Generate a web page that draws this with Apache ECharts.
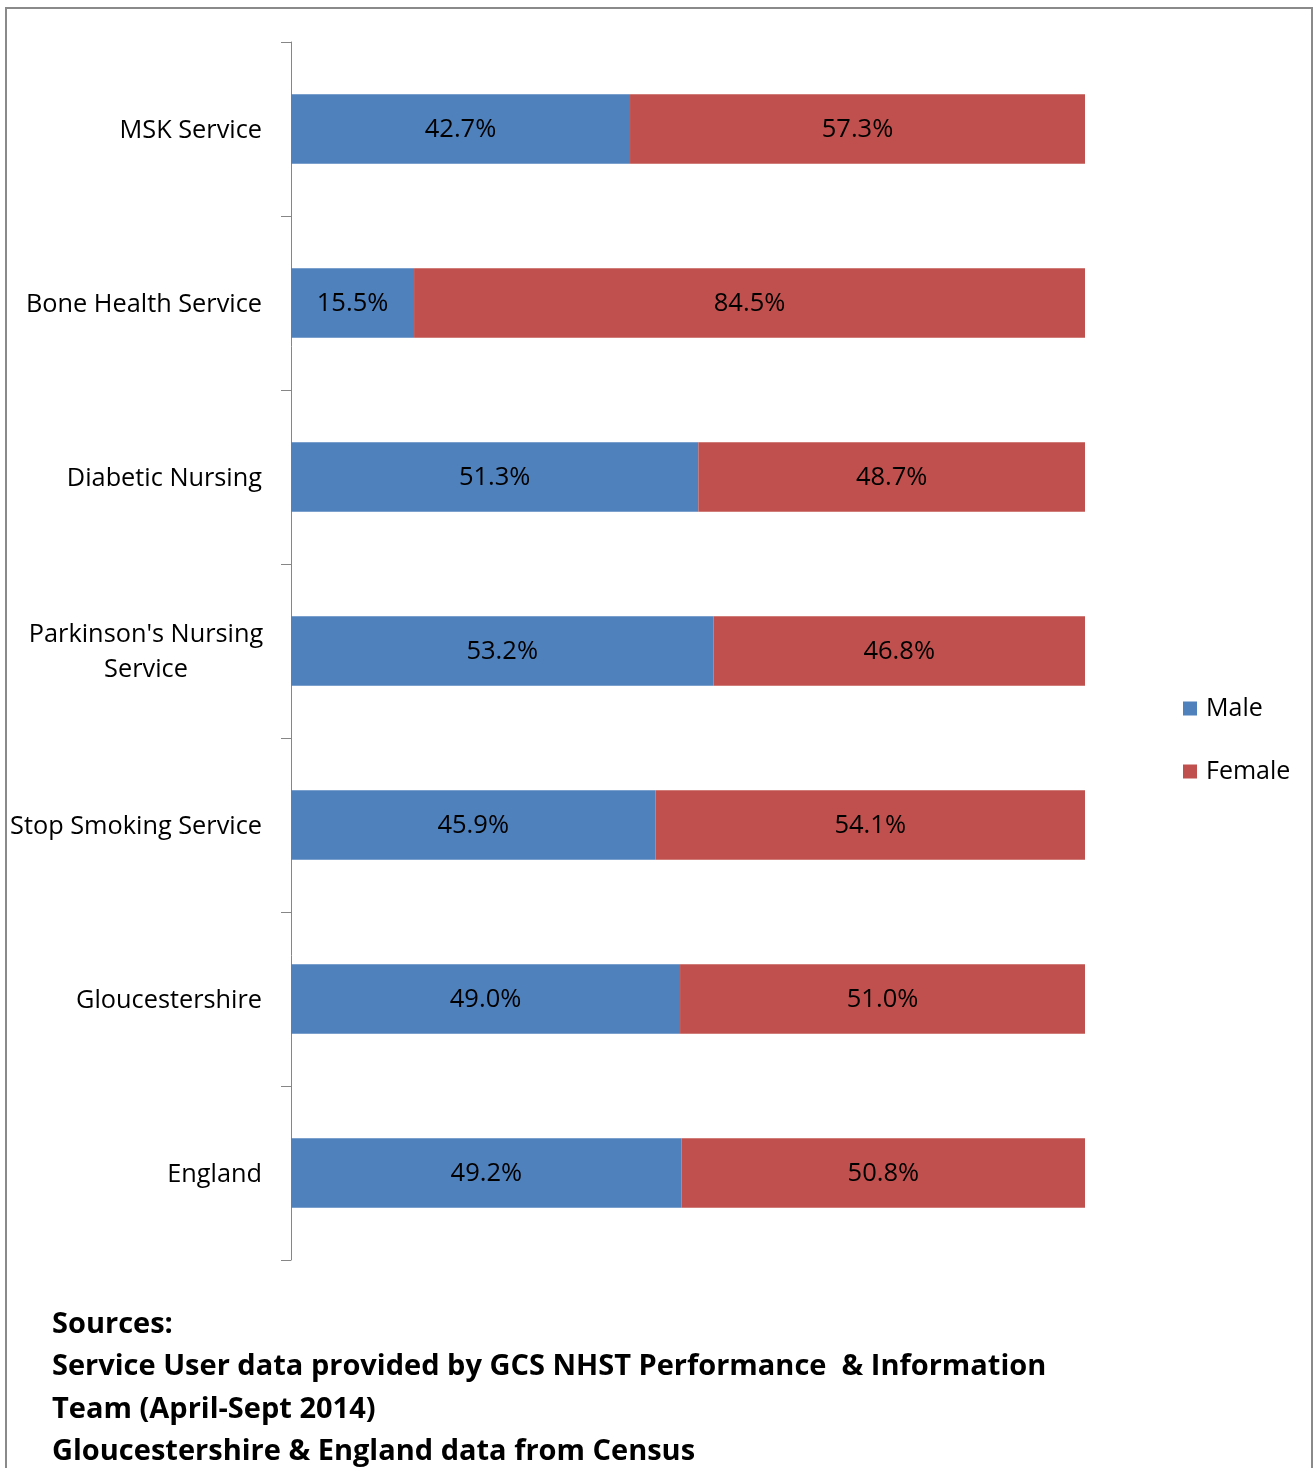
<!DOCTYPE html>
<html><head><meta charset="utf-8">
<script src="https://cdn.jsdelivr.net/npm/echarts@6/dist/echarts.min.js"></script>
<style>html,body{margin:0;padding:0;background:#fff}#c{width:1314px;height:1468px}</style>
</head><body><div id="c"></div>
<script>
const categories = ["MSK Service","Bone Health Service","Diabetic Nursing","Parkinson's Nursing\nService","Stop Smoking Service","Gloucestershire","England"];
const male = [42.7,15.5,51.3,53.2,45.9,49.0,49.2];
const female = [57.3,84.5,48.7,46.8,54.1,51.0,50.8];
const seriesNames = ["Male","Female"];
const sourcesText = "Sources:\nService User data provided by GCS NHST Performance  & Information\nTeam (April-Sept 2014)\nGloucestershire & England data from Census";

const FONT = "Open Sans";
const chart = echarts.init(document.getElementById('c'));
const lbl = {show:true, position:'inside', color:'#000', fontSize:25.5, fontFamily:FONT, offset:[0,1], formatter:p=>p.value.toFixed(1)+'%'};
chart.setOption({
  animation:false,
  grid:{left:291,right:229,top:42,bottom:208},
  legend:{orient:'vertical', left:1178, top:691, itemWidth:14, itemHeight:14, itemGap:38, icon:'rect',
    textStyle:{fontSize:25, fontFamily:FONT, color:'#000', padding:[0,0,0,4]}, data:seriesNames},
  xAxis:{type:'value', min:0, max:100, show:false},
  yAxis:{type:'category', inverse:true, data:categories,
    axisLine:{show:true, lineStyle:{color:'#868686'}},
    axisTick:{show:true, length:10, alignWithLabel:false, lineStyle:{color:'#868686'}},
    axisLabel:{margin:29, fontFamily:FONT, fontSize:25.3, color:'#000', padding:[3,0,0,0],
      formatter:v=> v.indexOf('\n')>=0 ? '{c|'+v+'}' : v,
      rich:{c:{width:232, align:'center', fontSize:25.3, fontFamily:FONT, color:'#000', lineHeight:35}}}},
  series:[
    {name:seriesNames[0], type:'bar', stack:'s', data:male, barWidth:'40%', itemStyle:{color:'#4F81BD'}, label:lbl},
    {name:seriesNames[1], type:'bar', stack:'s', data:female, barWidth:'40%', itemStyle:{color:'#C0504D'}, label:lbl}
  ],
  graphic:[
    {type:'rect', shape:{x:6,y:8,width:1306,height:1500}, style:{fill:'none', stroke:'#8a8a8a', lineWidth:2}, silent:true},
    {type:'text', left:52, top:1303, style:{text:sourcesText, fontSize:29, fontWeight:'bold', fontFamily:FONT, fill:'#000', lineHeight:42.5}}
  ]
});
</script></body></html>
